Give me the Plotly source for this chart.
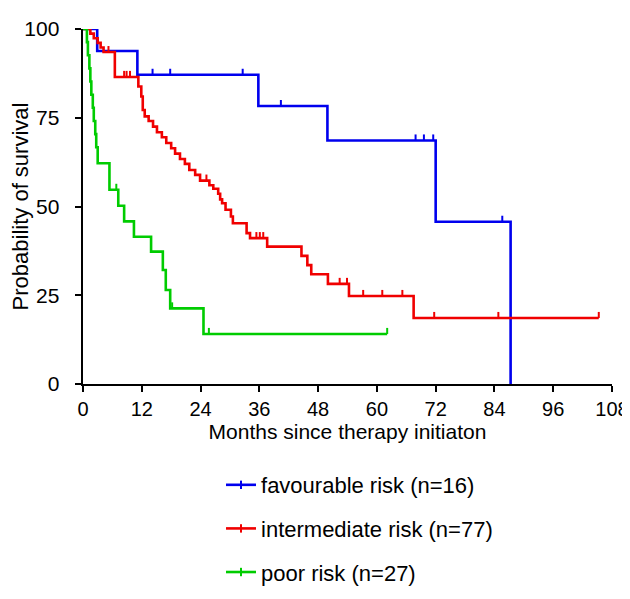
import plotly.graph_objects as go

# ---- data (months, survival %) ----
fav_t = [0, 2.9, 11.1, 35.8, 49.9, 72.0, 87.3]
fav_s = [100, 93.8, 87.1, 78.3, 68.6, 45.7, 0]
fav_cens_t = [14.2, 17.8, 32.6, 40.4, 67.9, 69.6, 71.5, 85.6]
fav_cens_s = [87.1, 87.1, 87.1, 78.3, 68.6, 68.6, 68.6, 45.7]

int_t = [0, 1.5, 2.2, 3.0, 3.6, 4.2, 6.5, 11.3, 11.9, 12.2, 12.6, 13.4, 14.3, 15.1,
         16.1, 17.0, 18.0, 18.8, 19.8, 20.8, 21.7, 22.9, 23.9, 25.8, 26.6, 27.6,
         28.0, 28.4, 29.1, 30.2, 30.6, 33.4, 34.1, 37.6, 44.6, 45.8, 46.6, 50.0,
         54.3, 67.5, 105.3]
int_s = [100, 98.7, 97.4, 96.1, 94.8, 93.5, 86.5, 83.8, 81.0, 77.2, 75.4, 74.1, 72.5,
         70.9, 69.5, 67.9, 66.4, 64.9, 63.4, 62.0, 60.3, 58.9, 57.3, 56.0, 55.0, 53.6,
         52.0, 50.9, 49.1, 47.2, 45.3, 42.5, 41.1, 38.7, 36.1, 33.5, 30.9, 28.2,
         24.8, 18.6, 18.6]
int_cens_t = [5.2, 8.4, 8.9, 9.6, 25.2, 35.4, 36.1, 36.8, 52.4, 53.9, 57.2, 61.1,
              65.2, 71.7, 84.8, 105.3]
int_cens_s = [93.5, 86.5, 86.5, 86.5, 57.3, 41.1, 41.1, 41.1, 28.2, 28.2, 24.8, 24.8,
              24.8, 18.6, 18.6, 18.6]

poor_t = [0, 0.8, 1.0, 1.3, 1.5, 1.7, 2.0, 2.2, 2.5, 2.7, 3.0, 5.4, 7.2, 8.4, 10.4,
          13.9, 16.3, 16.9, 17.8, 24.6, 62.1]
poor_s = [100, 96.3, 92.6, 88.9, 85.2, 81.5, 77.8, 74.1, 70.4, 66.7, 62.2, 54.7, 50.2,
          45.8, 41.5, 37.3, 32.1, 26.5, 21.3, 14.1, 14.1]
poor_cens_t = [6.8, 18.2, 25.7, 62.1]
poor_cens_s = [54.7, 21.3, 14.1, 14.1]

x_ticks = [0, 12, 24, 36, 48, 60, 72, 84, 96, 108]
y_ticks = [0, 25, 50, 75, 100]

series = [
    ("favourable risk (n=16)", fav_t, fav_s, fav_cens_t, fav_cens_s, "#0000EE"),
    ("intermediate risk (n=77)", int_t, int_s, int_cens_t, int_cens_s, "#F00000"),
    ("poor risk (n=27)", poor_t, poor_s, poor_cens_t, poor_cens_s, "#00CC00"),
]

FONT = "Liberation Sans, Arial, sans-serif"
NBSP = "\u00a0"
fig = go.Figure()
for i, (name, t, s, ct, cs, col) in enumerate(series):
    fig.add_trace(go.Scatter(x=t, y=s, mode="lines", line=dict(color=col, width=2.6, shape="hv"),
                             showlegend=False, cliponaxis=False, hoverinfo="skip"))
    # censor ticks: short upward strokes
    fig.add_trace(go.Scatter(x=ct, y=cs, mode="markers",
                             marker=dict(size=1, color=col, opacity=0),
                             error_y=dict(type="constant", value=1.7, valueminus=0, symmetric=False,
                                          width=0, thickness=2, color=col),
                             showlegend=False, cliponaxis=False, hoverinfo="skip"))
    # legend entry
    fig.add_trace(go.Scatter(x=[None], y=[None], mode="lines+markers", name=name,
                             legendgroup=f"g{i}",
                             line=dict(color=col, width=2.6),
                             marker=dict(symbol="line-ns", size=6, line=dict(color=col, width=2))))

# page body adds an 8px offset, so the figure is sized smaller than the window
fig.update_layout(
    width=622, height=583,
    margin=dict(l=75, r=18, t=21, b=207, autoexpand=False),
    plot_bgcolor="white", paper_bgcolor="white",
    font=dict(family=FONT, size=21, color="black"),
    showlegend=True,
    legend=dict(x=0.2609, y=-0.2254, xanchor="left", yanchor="top",
                font=dict(size=22), tracegroupgap=12, itemwidth=30,
                bgcolor="rgba(0,0,0,0)"),
    xaxis=dict(range=[0, 108], tickvals=x_ticks, ticktext=[str(v) for v in x_ticks],
               showgrid=False, zeroline=False, showline=True, linecolor="black", linewidth=1.5,
               ticks="outside", ticklen=6, tickwidth=1.5, tickcolor="black", automargin=False,
               tickfont=dict(size=20),
               title=dict(text="Months since therapy initiaton", font=dict(size=21), standoff=6)),
    yaxis=dict(range=[0, 100], tickvals=y_ticks, ticktext=[str(v) + NBSP * 2 for v in y_ticks],
               showgrid=False, zeroline=False, showline=True, linecolor="black", linewidth=1.5,
               ticks="outside", ticklen=6, tickwidth=1.5, tickcolor="black", automargin=False,
               tickfont=dict(size=21),
               title=dict(text="Probability of survival", font=dict(size=22), standoff=2)),
)

fig.write_html("out.html")
